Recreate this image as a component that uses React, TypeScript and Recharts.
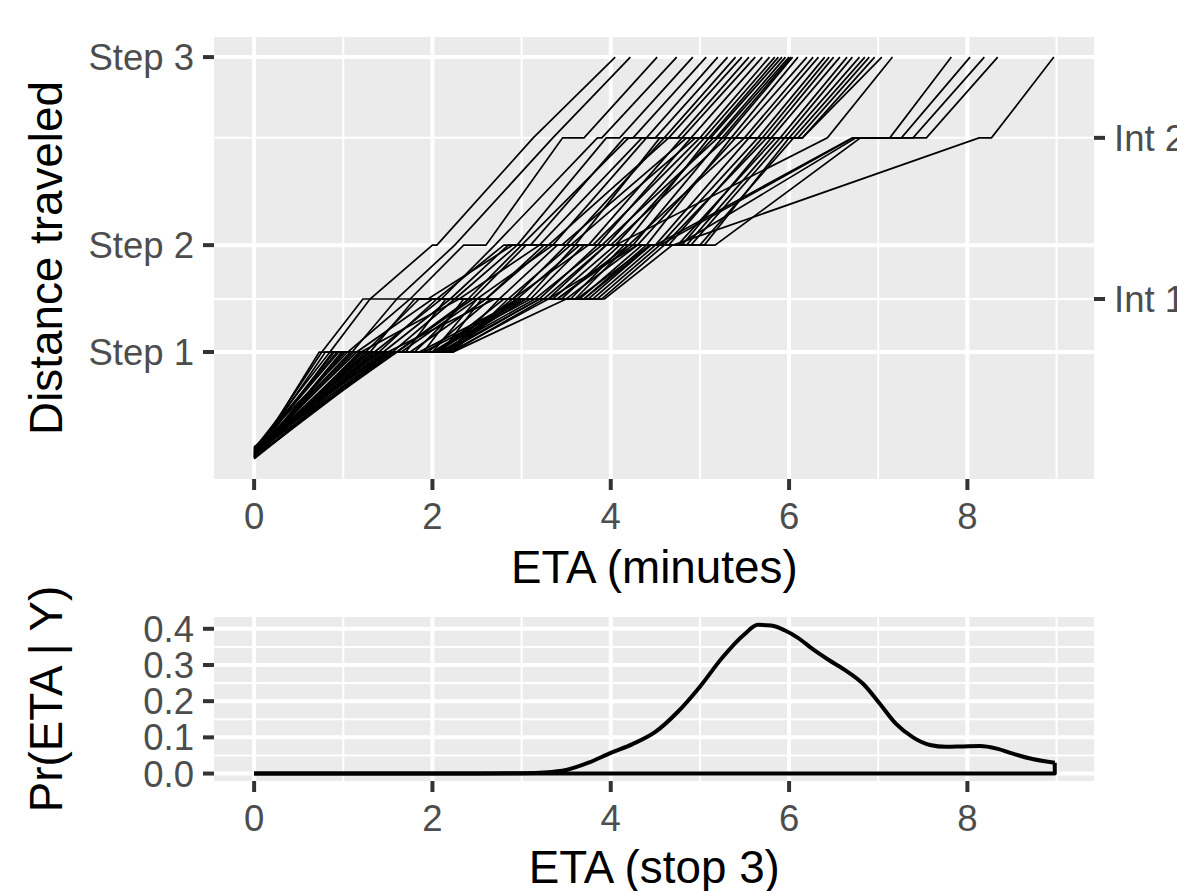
import React from 'react';
import { LineChart, Line, XAxis, YAxis, CartesianGrid } from 'recharts';

// ---- axis definitions ----
const STOP_LABELS = ['Step 1', 'Step 2', 'Step 3'];
const STOP_DISTANCES = [266, 532, 1000];
const INTERSECTION_LABELS = ['Int 1', 'Int 2'];
const INTERSECTION_DISTANCES = [398, 799];

const X_MAJOR_TICKS = [0, 2, 4, 6, 8];
const X_MINOR_BREAKS = [1, 3, 5, 7, 9];
const DENSITY_TICKS = [0, 0.1, 0.2, 0.3, 0.4];
const DENSITY_MINOR_BREAKS = [0.05, 0.15, 0.25, 0.35];

// ---- simulated bus trajectories ----
// start distance of each bus
const BUS_START = [
  5, 12, 20, 8, 15, 25, 3, 18, 10, 22, 6, 28, 14, 2, 19, 11, 24, 7, 16, 29, 4,
  13, 21, 9, 26, 1, 17, 23, 5, 27, 12, 20, 8, 15, 30, 3, 18, 10, 22, 6, 14, 0,
];
// times (min): arrive Step1, leave Step1, arrive Int1, leave Int1, arrive Step2,
// leave Step2, arrive Int2, leave Int2, arrive Step3
const BUS_TIMES = [
  [0.73, 0.85, 1.3, 1.3, 2.0, 2.05, 3.13, 3.13, 4.05],
  [0.76, 0.76, 1.22, 1.6, 2.25, 2.25, 3.35, 3.35, 4.22],
  [0.95, 1.05, 1.75, 1.75, 2.35, 2.6, 3.46, 3.7, 4.52],
  [0.8, 1.3, 1.8, 2.1, 2.7, 2.7, 3.85, 3.9, 4.74],
  [1.1, 1.1, 1.6, 1.95, 2.9, 2.95, 3.95, 4.1, 4.92],
  [0.85, 1.45, 2.2, 2.2, 2.85, 3.0, 4.2, 4.25, 5.07],
  [1.25, 1.25, 1.85, 2.4, 3.0, 3.1, 4.15, 4.4, 5.2],
  [0.9, 1.15, 2.0, 2.05, 2.8, 3.35, 4.4, 4.5, 5.31],
  [1.0, 1.7, 2.15, 2.3, 3.2, 3.2, 4.35, 4.6, 5.4],
  [1.3, 1.55, 2.25, 2.25, 2.95, 3.5, 4.6, 4.65, 5.47],
  [0.88, 1.35, 2.1, 2.6, 3.25, 3.3, 4.65, 4.75, 5.55],
  [1.05, 1.9, 2.35, 2.5, 3.35, 3.6, 4.55, 4.8, 5.62],
  [1.4, 1.4, 2.05, 2.75, 3.4, 3.45, 4.85, 4.9, 5.7],
  [0.98, 1.6, 2.45, 2.45, 3.05, 3.75, 4.8, 5.0, 5.78],
  [1.15, 2.0, 2.5, 2.85, 3.55, 3.55, 4.95, 5.05, 5.84],
  [1.2, 1.2, 2.3, 3.05, 3.6, 3.85, 4.9, 5.1, 5.88],
  [0.93, 1.75, 2.6, 2.6, 3.3, 3.95, 5.05, 5.12, 5.92],
  [1.35, 1.8, 2.4, 2.9, 3.75, 3.8, 5.0, 5.18, 5.96],
  [1.08, 2.1, 2.55, 3.1, 3.7, 4.05, 5.15, 5.2, 6.0],
  [1.5, 1.5, 2.7, 2.95, 3.65, 4.15, 5.1, 5.25, 6.02],
  [1.02, 1.95, 2.65, 3.2, 3.85, 3.9, 5.2, 5.28, 6.04],
  [1.28, 2.15, 2.9, 2.9, 3.5, 4.25, 5.25, 5.35, 6.1],
  [1.45, 1.65, 2.5, 3.3, 3.95, 4.0, 5.3, 5.4, 6.2],
  [1.12, 2.05, 2.8, 3.35, 4.05, 4.3, 5.4, 5.5, 6.27],
  [1.55, 2.2, 2.95, 3.15, 3.9, 4.4, 5.35, 5.55, 6.33],
  [1.18, 1.85, 3.0, 3.45, 4.1, 4.2, 5.5, 5.65, 6.4],
  [1.33, 2.23, 2.85, 3.55, 4.15, 4.5, 5.55, 5.7, 6.45],
  [1.6, 1.6, 2.41, 3.4, 4.25, 4.55, 5.65, 5.75, 6.5],
  [1.22, 2.0, 3.1, 3.6, 4.2, 4.65, 5.7, 5.8, 6.57],
  [1.48, 2.18, 2.75, 3.65, 4.35, 4.6, 5.75, 5.9, 6.65],
  [1.38, 2.12, 3.2, 3.5, 4.3, 4.75, 5.85, 5.95, 6.71],
  [1.52, 1.9, 3.05, 3.75, 4.45, 4.8, 5.8, 6.0, 6.79],
  [1.25, 2.08, 3.15, 3.7, 4.4, 4.9, 5.95, 6.05, 6.85],
  [1.58, 2.22, 3.25, 3.8, 4.5, 4.85, 5.9, 6.1, 6.9],
  [1.42, 2.02, 2.95, 3.85, 4.55, 5.0, 6.05, 6.15, 6.96],
  [1.56, 2.2, 3.3, 3.9, 4.6, 5.05, 6.0, 6.15, 7.04],
  [1.3, 2.12, 3.0, 3.25, 3.95, 4.05, 6.43, 6.43, 7.16],
  [1.35, 2.0, 2.95, 3.62, 4.44, 4.5, 6.71, 7.13, 7.82],
  [1.45, 2.1, 3.05, 3.4, 4.2, 4.55, 6.72, 7.26, 8.03],
  [1.55, 2.15, 3.2, 3.93, 4.69, 4.75, 6.75, 7.39, 8.19],
  [1.6, 2.23, 3.5, 3.7, 4.45, 5.17, 6.8, 7.54, 8.34],
  [1.5, 2.05, 3.0, 3.3, 4.3, 4.7, 8.13, 8.27, 8.97],
];

// ---- density of ETA at stop 3 ----
const ETA_GRID = [
  0, 1, 2, 2.5, 3, 3.25, 3.5, 3.75, 4, 4.25, 4.5, 4.75, 5, 5.25, 5.5, 5.65,
  5.8, 5.95, 6.1, 6.27, 6.45, 6.64, 6.83, 7.02, 7.2, 7.39, 7.58, 7.76, 7.95,
  8.14, 8.33, 8.51, 8.73, 8.98,
];
const ETA_DENSITY = [
  0, 0, 0, 0, 0.001, 0.003, 0.01, 0.03, 0.057, 0.082, 0.115, 0.17, 0.24, 0.32,
  0.385, 0.411, 0.409, 0.396, 0.375, 0.343, 0.313, 0.284, 0.248, 0.192, 0.137,
  0.1, 0.079, 0.074, 0.075, 0.076, 0.069, 0.055, 0.04, 0.03,
];

const X_DOMAIN = [-0.45, 9.42];
const Y_DOMAIN = [-50, 1050];
const DENSITY_DOMAIN = [-0.0206, 0.4326];

const FONT = '"Liberation Sans", Arial, Helvetica, sans-serif';
const TICK_TEXT = { fill: '#4D4D4D', fontSize: 36.5, fontFamily: FONT };
const TICK_LINE = { stroke: '#333333', strokeWidth: 4 };

const trajectories = BUS_TIMES.map((times, i) => {
  const levels = [
    BUS_START[i],
    STOP_DISTANCES[0], STOP_DISTANCES[0],
    INTERSECTION_DISTANCES[0], INTERSECTION_DISTANCES[0],
    STOP_DISTANCES[1], STOP_DISTANCES[1],
    INTERSECTION_DISTANCES[1], INTERSECTION_DISTANCES[1],
    STOP_DISTANCES[2],
  ];
  const t = [0, ...times];
  return t.map((x, k) => ({ x, y: levels[k] }));
});

const densityData = ETA_GRID.map((x, i) => ({ x, y: ETA_DENSITY[i] }));
const last = ETA_GRID.length - 1;
const densityBase = [
  { x: ETA_GRID[0], y: 0 },
  { x: ETA_GRID[last], y: 0 },
  { x: ETA_GRID[last], y: ETA_DENSITY[last] },
];

export default function App() {
  return (
    <div
      style={{
        position: 'absolute',
        left: 0,
        top: 0,
        width: 1177,
        height: 891,
        overflow: 'hidden',
        background: '#FFFFFF',
        fontFamily: FONT,
      }}
    >
      <div style={{ position: 'absolute', left: 0, top: 0 }}>
        <LineChart width={1194} height={540} margin={{ top: 37, right: 0, bottom: 0, left: 0 }}>
          <CartesianGrid
            fill="#EBEBEB"
            fillOpacity={1}
            stroke="#FFFFFF"
            strokeWidth={2}
            horizontalValues={INTERSECTION_DISTANCES}
            verticalValues={X_MINOR_BREAKS}
          />
          <CartesianGrid
            stroke="#FFFFFF"
            strokeWidth={4}
            horizontalValues={STOP_DISTANCES}
            verticalValues={X_MAJOR_TICKS}
          />
          <XAxis
            type="number"
            dataKey="x"
            domain={X_DOMAIN}
            allowDataOverflow
            ticks={X_MAJOR_TICKS}
            interval={0}
            height={61}
            tickSize={11}
            tickMargin={13}
            axisLine={false}
            tickLine={TICK_LINE}
            tick={TICK_TEXT}
          />
          <YAxis
            type="number"
            dataKey="y"
            domain={Y_DOMAIN}
            allowDataOverflow
            ticks={STOP_DISTANCES}
            interval={0}
            width={214}
            tickSize={11}
            tickMargin={9}
            axisLine={false}
            tickLine={TICK_LINE}
            tick={TICK_TEXT}
            tickFormatter={(v: number) => STOP_LABELS[STOP_DISTANCES.indexOf(v)] ?? ''}
          />
          <YAxis
            yAxisId="right"
            orientation="right"
            type="number"
            domain={Y_DOMAIN}
            allowDataOverflow
            ticks={INTERSECTION_DISTANCES}
            interval={0}
            width={100}
            tickSize={11}
            tickMargin={9}
            axisLine={false}
            tickLine={TICK_LINE}
            tick={TICK_TEXT}
            tickFormatter={(v: number) =>
              INTERSECTION_LABELS[INTERSECTION_DISTANCES.indexOf(v)] ?? ''
            }
          />
          {trajectories.map((pts, i) => (
            <Line
              key={`bus-${i}`}
              data={pts}
              dataKey="y"
              type="linear"
              stroke="#000000"
              strokeWidth={1.7}
              dot={false}
              activeDot={false}
              isAnimationActive={false}
            />
          ))}
        </LineChart>
      </div>

      <div style={{ position: 'absolute', left: 0, top: 560 }}>
        <LineChart width={1177} height={282} margin={{ top: 57, right: 83, bottom: 0, left: 0 }}>
          <CartesianGrid
            fill="#EBEBEB"
            fillOpacity={1}
            stroke="#FFFFFF"
            strokeWidth={2}
            horizontalValues={DENSITY_MINOR_BREAKS}
            verticalValues={X_MINOR_BREAKS}
          />
          <CartesianGrid
            stroke="#FFFFFF"
            strokeWidth={4}
            horizontalValues={DENSITY_TICKS}
            verticalValues={X_MAJOR_TICKS}
          />
          <XAxis
            type="number"
            dataKey="x"
            domain={X_DOMAIN}
            allowDataOverflow
            ticks={X_MAJOR_TICKS}
            interval={0}
            height={61}
            tickSize={11}
            tickMargin={13}
            axisLine={false}
            tickLine={TICK_LINE}
            tick={TICK_TEXT}
          />
          <YAxis
            type="number"
            dataKey="y"
            domain={DENSITY_DOMAIN}
            allowDataOverflow
            ticks={DENSITY_TICKS}
            interval={0}
            width={214}
            tickSize={11}
            tickMargin={9}
            axisLine={false}
            tickLine={TICK_LINE}
            tick={TICK_TEXT}
            tickFormatter={(v: number) => v.toFixed(1)}
          />
          <Line
            data={densityBase}
            dataKey="y"
            type="linear"
            stroke="#000000"
            strokeWidth={4}
            strokeLinejoin="round"
            dot={false}
            activeDot={false}
            isAnimationActive={false}
          />
          <Line
            data={densityData}
            dataKey="y"
            type="monotone"
            stroke="#000000"
            strokeWidth={4}
            strokeLinejoin="round"
            dot={false}
            activeDot={false}
            isAnimationActive={false}
          />
        </LineChart>
      </div>

      <svg
        width={1177}
        height={891}
        style={{ position: 'absolute', left: 0, top: 0, pointerEvents: 'none' }}
      >
        <g fontFamily={FONT} fontSize={45.8} fill="#000000">
          <text x={61.7} y={258} textAnchor="middle" transform="rotate(-90 61.7 258)">
            Distance traveled
          </text>
          <text x={654.3} y={582.7} textAnchor="middle">
            ETA (minutes)
          </text>
          <text x={61.7} y={699} textAnchor="middle" transform="rotate(-90 61.7 699)">
            Pr(ETA | Y)
          </text>
          <text x={654.3} y={883.3} textAnchor="middle">
            ETA (stop 3)
          </text>
        </g>
      </svg>
    </div>
  );
}
